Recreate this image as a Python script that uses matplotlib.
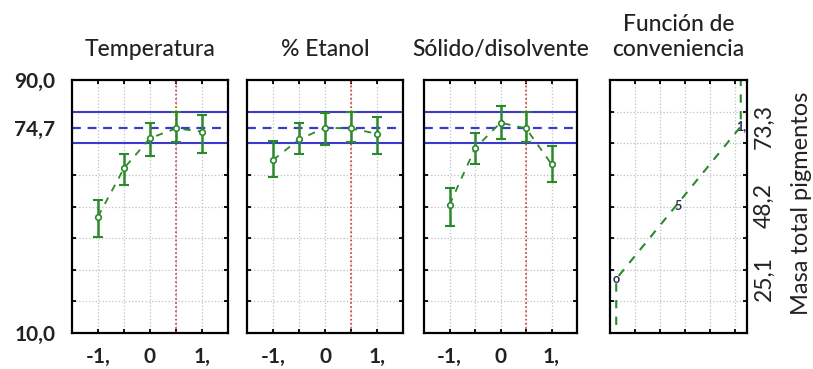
import numpy as np
import matplotlib
matplotlib.use("Agg")
import matplotlib.pyplot as plt

plt.rcParams['font.family'] = ['Lato', 'DejaVu Sans']

# niveles codificados de cada factor
niveles = [-1, -0.5, 0, 0.5, 1]
titulos = ["Temperatura", "% Etanol", "Sólido/disolvente"]

# valor predicho y limites del intervalo
temp_media = [46.8, 62.1, 71.6, 74.7, 73.7]
temp_sup = [52.0, 66.5, 76.3, 79.8, 78.9]
temp_inf = [40.5, 56.8, 66.0, 70.3, 67.0]

etanol_media = [64.7, 71.2, 74.9, 74.7, 73.0]
etanol_sup = [70.7, 76.3, 79.7, 79.8, 78.2]
etanol_inf = [59.2, 66.6, 69.4, 70.3, 66.6]

solido_media = [50.5, 68.4, 76.5, 74.7, 63.4]
solido_sup = [56.0, 73.1, 81.8, 79.8, 69.1]
solido_inf = [43.9, 63.3, 71.3, 70.3, 57.8]

optimo = 0.5
respuesta_opt = 74.7
ic_inf, ic_sup = 70.2, 79.9

# funcion de conveniencia
conv_x = [0, 0, 1, 1]
conv_y = [0, 25.1, 73.3, 100]
conv_ticks = [25.1, 48.2, 73.3]
conv_marcas = [(0, 25.1, "o"), (0.5, 48.2, "5"), (1, 73.3, "1,")]

verde = "#2a8a2a"
azul = "#3a3acf"
rojo = "#d03a3a"
texto = "#222222"

W, H = 813, 369
fig = plt.figure(figsize=(W / 100, H / 100), dpi=100)

def caja(x0, ancho):
    return [x0 / W, (H - 333) / H, ancho / W, 253 / H]

posiciones = [(72, 156), (247, 156), (424, 153)]
series = [(temp_media, temp_sup, temp_inf),
          (etanol_media, etanol_sup, etanol_inf),
          (solido_media, solido_sup, solido_inf)]

for i, ((x0, w), (med, sup, inf)) in enumerate(zip(posiciones, series)):
    ax = fig.add_axes(caja(x0, w))
    ax.set_xlim(-1.5, 1.5)
    ax.set_ylim(10, 90)
    ax.set_xticks([-1, 0, 1])
    ax.set_xticklabels(["-1,", "0", "1,"])
    ax.set_xticks([-0.5, 0.5], minor=True)
    ax.set_yticks(np.arange(20, 90, 10), minor=True)
    if i == 0:
        ax.set_yticks([10, 74.7, 90])
        ax.set_yticklabels(["10,0", "74,7", "90,0"])
    else:
        ax.set_yticks([])
    ax.grid(True, which='both', axis='x', color='#c0c0c0', linestyle=':', lw=0.9)
    ax.grid(True, which='minor', axis='y', color='#c0c0c0', linestyle=':', lw=0.9)
    ax.tick_params(which='both', direction='in', length=3, width=1.3,
                   top=True, right=True, colors='black')
    ax.tick_params(axis='y', which='major', length=0, pad=12)
    ax.tick_params(axis='x', which='major', pad=10)
    for t in ax.get_xticklabels() + ax.get_yticklabels():
        t.set_fontsize(15)
        t.set_fontweight('bold')
        t.set_color(texto)
    for s in ax.spines.values():
        s.set_linewidth(1.6)

    ax.axhline(ic_sup, color=azul, lw=1.5)
    ax.axhline(ic_inf, color=azul, lw=1.5)
    ax.axhline(respuesta_opt, color=azul, lw=1.6, dashes=(4, 3))
    ax.axvline(optimo, color=rojo, lw=1.2, linestyle=(0, (1, 1.5)))

    med = np.array(med)
    err = [med - np.array(inf), np.array(sup) - med]
    ax.plot(niveles, med, color=verde, lw=1.3, dashes=(4, 4))
    ax.errorbar(niveles, med, yerr=err, fmt='none', ecolor=verde,
                elinewidth=1.8, capsize=3.5, capthick=1.5)
    ax.plot(niveles, med, 'o', ms=4, mfc='white', mec=verde, mew=1.2)
    ax.set_title(titulos[i], fontsize=16.5, fontweight='medium', color=texto,
                 pad=17)

# panel de conveniencia
ax4 = fig.add_axes(caja(610, 137))
ax4.set_xlim(-0.05, 1.05)
ax4.set_ylim(8, 88)
ax4.set_xticks([])
ax4.set_xticks([0.15, 0.35, 0.55, 0.75, 0.95], minor=True)
ax4.set_yticks(np.arange(18, 88, 10), minor=True)
ax4.set_yticks(conv_ticks)
ax4.set_yticklabels(["25,1", "48,2", "73,3"], rotation=90, va='center',
                    fontsize=16.5, color=texto)
ax4.yaxis.tick_right()
ax4.grid(True, which='minor', color='#c0c0c0', linestyle=':', lw=0.9)
ax4.tick_params(which='minor', direction='in', length=3, width=1.3,
                top=True, bottom=True, left=True, right=True)
ax4.tick_params(axis='y', which='major', length=0, pad=5)
for s in ax4.spines.values():
    s.set_linewidth(1.6)
ax4.plot(conv_x, conv_y, color=verde, lw=1.5, dashes=(4, 4))
for cx, cy, lab in conv_marcas:
    ax4.text(cx, cy, lab, fontsize=9, fontweight='bold', color='#2a2a55',
             ha='center', va='center', zorder=5)
ax4.set_title("Función de\nconveniencia", fontsize=16.5, fontweight='medium',
              color=texto, pad=17, linespacing=1.25)

fig.text(801 / W, 1 - 203 / H, "Masa total pigmentos", rotation=90,
         ha='center', va='center', fontsize=17, color=texto)

fig.savefig("out.png", dpi=100)
